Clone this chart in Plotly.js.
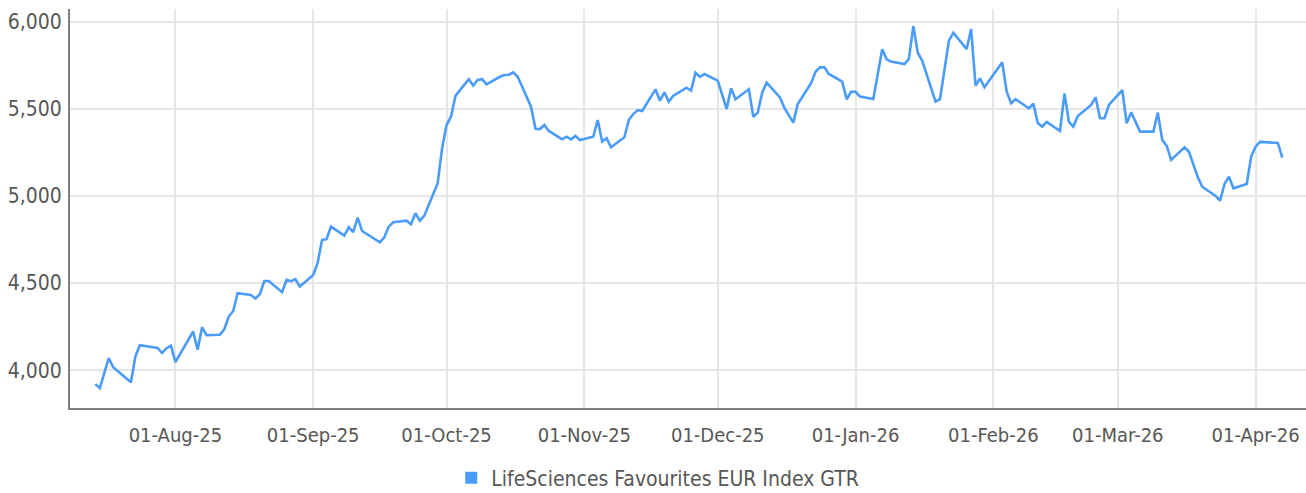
<!DOCTYPE html>
<html>
<head>
<meta charset="utf-8">
<script src="https://cdn.plot.ly/plotly-3.0.1.min.js"></script>
<style>
html,body{margin:0;padding:0;background:#fff;}
#chart{width:1306px;height:493px;}
#chart svg text{font-stretch:condensed !important;}
</style>
</head>
<body>
<div id="chart"></div>
<script>
const seriesName = 'LifeSciences Favourites EUR Index GTR';
const dates = [
'2025-07-14','2025-07-15','2025-07-17','2025-07-18','2025-07-22','2025-07-23','2025-07-24','2025-07-28','2025-07-29','2025-07-30','2025-07-31',
'2025-08-01','2025-08-05','2025-08-06','2025-08-07','2025-08-08','2025-08-11','2025-08-12','2025-08-13','2025-08-14','2025-08-15',
'2025-08-18','2025-08-19','2025-08-20','2025-08-21','2025-08-22','2025-08-25','2025-08-26','2025-08-27','2025-08-28','2025-08-29',
'2025-09-01','2025-09-02','2025-09-03','2025-09-04','2025-09-05','2025-09-08','2025-09-09','2025-09-10','2025-09-11','2025-09-12',
'2025-09-16','2025-09-17','2025-09-18','2025-09-19','2025-09-22','2025-09-23','2025-09-24','2025-09-25','2025-09-26','2025-09-29','2025-09-30',
'2025-10-01','2025-10-02','2025-10-03','2025-10-06','2025-10-07','2025-10-08','2025-10-09','2025-10-10','2025-10-13','2025-10-14',
'2025-10-15','2025-10-16','2025-10-17','2025-10-20','2025-10-21','2025-10-22','2025-10-23','2025-10-24','2025-10-27','2025-10-28',
'2025-10-29','2025-10-30','2025-10-31','2025-11-03','2025-11-04','2025-11-05','2025-11-06','2025-11-07','2025-11-10','2025-11-11',
'2025-11-12','2025-11-13','2025-11-14','2025-11-17','2025-11-18','2025-11-19','2025-11-20','2025-11-21','2025-11-24','2025-11-25',
'2025-11-26','2025-11-27','2025-11-28','2025-12-01','2025-12-03','2025-12-04','2025-12-05','2025-12-08','2025-12-09','2025-12-10',
'2025-12-11','2025-12-12','2025-12-15','2025-12-16','2025-12-18','2025-12-19','2025-12-22','2025-12-23','2025-12-24','2025-12-25',
'2025-12-26','2025-12-29','2025-12-30','2025-12-31','2026-01-01','2026-01-02','2026-01-05','2026-01-07','2026-01-08','2026-01-09',
'2026-01-12','2026-01-13','2026-01-14','2026-01-15','2026-01-16','2026-01-19','2026-01-20','2026-01-22','2026-01-23','2026-01-26',
'2026-01-27','2026-01-28','2026-01-29','2026-01-30','2026-02-03','2026-02-04','2026-02-05','2026-02-06','2026-02-09','2026-02-10',
'2026-02-11','2026-02-12','2026-02-13','2026-02-16','2026-02-17','2026-02-18','2026-02-19','2026-02-20','2026-02-23','2026-02-24',
'2026-02-25','2026-02-26','2026-02-27','2026-03-02','2026-03-03','2026-03-04','2026-03-06','2026-03-09','2026-03-10','2026-03-11',
'2026-03-12','2026-03-13','2026-03-16','2026-03-17','2026-03-19','2026-03-20','2026-03-23','2026-03-24','2026-03-25','2026-03-26',
'2026-03-27','2026-03-30','2026-03-31','2026-04-01','2026-04-02','2026-04-06','2026-04-07'
];
const values = [
3920,3897,4069,4017,3931,4078,4143,4128,4098,4126,4141,
4046,4222,4117,4247,4201,4203,4235,4308,4340,4442,
4432,4411,4436,4512,4512,4448,4518,4511,4522,4480,
4547,4616,4748,4752,4824,4772,4820,4792,4876,4799,
4734,4763,4824,4849,4858,4838,4901,4858,4887,5073,5274,
5407,5455,5574,5670,5633,5666,5670,5641,5684,5694,
5696,5710,5684,5512,5386,5384,5407,5373,5325,5340,
5325,5344,5321,5340,5436,5312,5331,5279,5337,5436,
5470,5493,5488,5612,5547,5595,5541,5575,5621,5604,
5707,5684,5700,5662,5499,5618,5555,5612,5455,5478,
5593,5650,5566,5505,5421,5528,5647,5713,5738,5738,
5700,5656,5555,5598,5598,5570,5557,5842,5784,5771,
5757,5786,5975,5822,5776,5541,5555,5891,5937,5843,
5958,5633,5675,5624,5767,5598,5532,5555,5503,5530,
5419,5398,5425,5373,5589,5425,5398,5459,5522,5566,
5446,5446,5522,5608,5417,5480,5369,5369,5478,5321,
5287,5207,5279,5254,5107,5053,5000,4973,5069,5111,
5044,5069,5226,5283,5310,5304,5220
];
const xTickStart = '2025-08-01';
const yTicks = [4000, 4500, 5000, 5500, 6000];

const FONT = '"DejaVu Sans", sans-serif';
const lineColor = '#4b9bf8';

const traces = [
  {
    type: 'scatter', mode: 'lines', x: dates, y: values, name: seriesName,
    line: {color: lineColor, width: 2.6}, showlegend: false, hoverinfo: 'x+y'
  },
  {
    type: 'bar', x: [null], y: [null], name: seriesName,
    marker: {color: lineColor}, showlegend: true, hoverinfo: 'skip'
  }
];

const layout = {
  width: 1306, height: 493,
  margin: {l: 70, r: 0, t: 9, b: 85},
  paper_bgcolor: '#fff', plot_bgcolor: '#fff',
  font: {family: FONT, color: '#575757', size: 20},
  showlegend: true,
  legend: {
    orientation: 'h', xref: 'container', yref: 'container',
    x: 0.3455, xanchor: 'left', y: 0.03, yanchor: 'middle',
    font: {family: FONT, size: 21, color: '#575757'}, itemwidth: 30
  },
  xaxis: {
    type: 'date', range: ['2025-07-08 07:00', '2026-04-12 08:00'],
    tick0: xTickStart, dtick: 'M1', tickformat: '%d-%b-%y',
    showgrid: true, gridcolor: '#e6e6e6', gridwidth: 2,
    showline: true, linecolor: '#808080', linewidth: 2,
    ticks: '', ticklabelstandoff: 8,
    tickfont: {family: FONT, size: 20, color: '#575757'},
    zeroline: false, fixedrange: true
  },
  yaxis: {
    range: [3783, 6073], tickvals: yTicks, tickformat: ',d',
    showgrid: true, gridcolor: '#e6e6e6', gridwidth: 2,
    showline: true, linecolor: '#808080', linewidth: 2,
    ticks: '', ticklabelstandoff: 2,
    tickfont: {family: FONT, size: 21, color: '#575757'},
    zeroline: false, fixedrange: true
  },
  bargap: 0
};

Plotly.newPlot('chart', traces, layout, {displayModeBar: false, staticPlot: true});
</script>
</body>
</html>
